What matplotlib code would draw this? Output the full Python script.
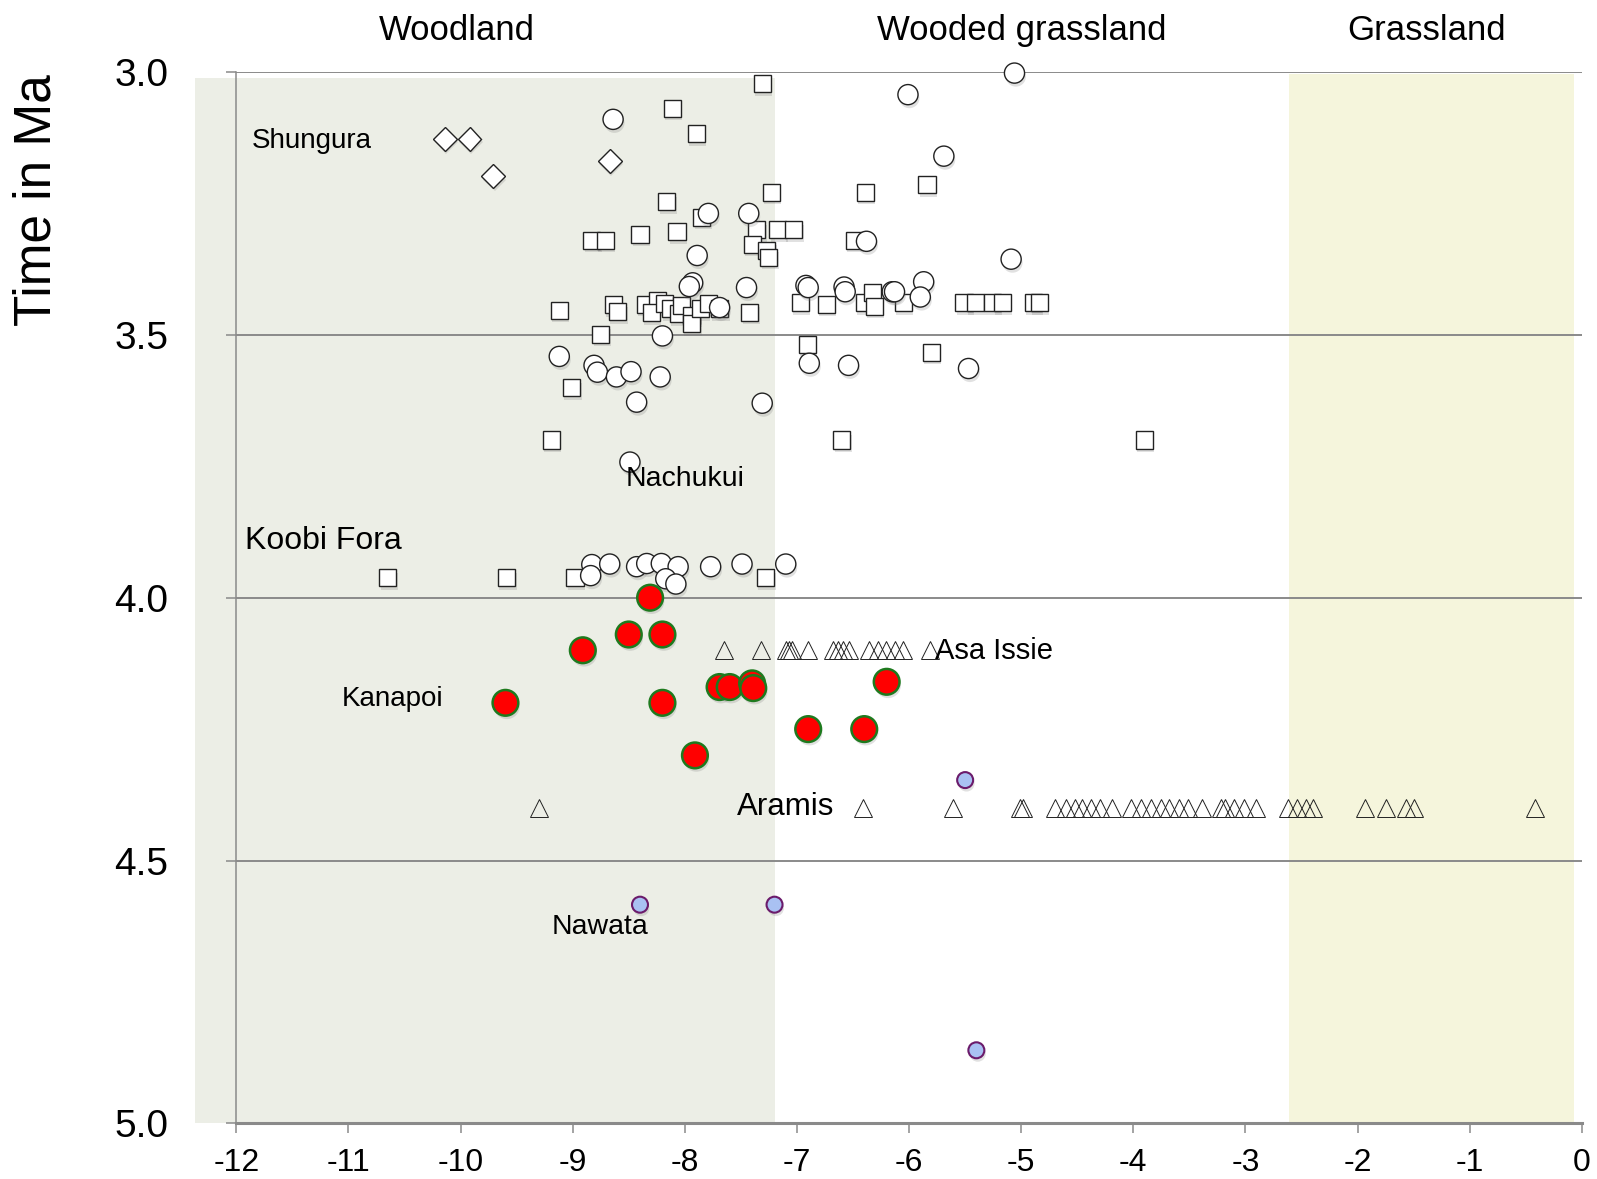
import matplotlib
matplotlib.use("Agg")
import matplotlib.pyplot as plt
import matplotlib.patheffects as pe
from matplotlib.patches import Rectangle

plt.rcParams['font.family'] = ['Liberation Sans', 'DejaVu Sans']
plt.rcParams['axes.unicode_minus'] = False

# delta 13C (x) against age in Ma (y), one list pair per site
shungura_x = [-10.14, -9.92, -9.71, -8.67]
shungura_y = [3.127, 3.127, 3.198, 3.169]

koobi_x = [-7.31, -8.11, -7.90, -7.23, -6.39, -5.84, -8.16, -7.85, -8.40, -8.07,
           -8.83, -8.71, -7.36, -7.40, -7.17, -7.03, -7.27, -7.25, -6.49,
           -9.12, -8.64, -8.60, -8.35, -8.24, -8.30, -8.18, -8.13, -8.06, -8.03,
           -7.94, -7.94, -7.86, -7.79, -7.69, -7.42, -8.75,
           -6.97, -6.74, -6.40, -6.33, -6.31, -6.05, -5.51, -5.41, -5.26, -5.17,
           -4.89, -4.84, -6.91, -5.80, -9.01, -9.19, -6.60, -3.90,
           -10.65, -9.59, -8.98, -7.28]
koobi_y = [3.022, 3.069, 3.117, 3.229, 3.229, 3.214, 3.247, 3.276, 3.309, 3.304,
           3.320, 3.320, 3.300, 3.328, 3.300, 3.300, 3.339, 3.352, 3.320,
           3.453, 3.443, 3.456, 3.442, 3.434, 3.458, 3.441, 3.450, 3.460, 3.444,
           3.463, 3.479, 3.450, 3.441, 3.450, 3.457, 3.499,
           3.439, 3.442, 3.439, 3.419, 3.446, 3.439, 3.439, 3.439, 3.439, 3.439,
           3.439, 3.439, 3.518, 3.533, 3.601, 3.700, 3.700, 3.700,
           3.962, 3.962, 3.962, 3.962]

nachukui_x = [-5.06, -6.01, -8.64, -5.69, -7.79, -7.43, -7.89, -6.38, -5.09,
              -7.93, -7.96, -7.45, -7.69, -8.20, -6.92, -6.90, -6.58, -6.57,
              -6.15, -6.13, -5.87, -5.90, -9.12, -8.81, -8.78, -8.61, -8.48,
              -8.22, -8.43, -7.31, -8.49, -6.89, -6.54, -5.47,
              -8.83, -8.84, -8.67, -8.43, -8.34, -8.21, -8.06, -8.17, -8.08,
              -7.77, -7.49, -7.10]
nachukui_y = [3.002, 3.043, 3.090, 3.160, 3.269, 3.269, 3.349, 3.322, 3.356,
              3.401, 3.408, 3.410, 3.448, 3.502, 3.406, 3.410, 3.409, 3.418,
              3.418, 3.418, 3.399, 3.428, 3.541, 3.558, 3.571, 3.580, 3.570,
              3.580, 3.628, 3.630, 3.742, 3.554, 3.558, 3.564,
              3.937, 3.958, 3.936, 3.941, 3.935, 3.935, 3.941, 3.964, 3.974,
              3.941, 3.936, 3.936]

kanapoi_x = [-8.31, -8.50, -8.20, -8.91, -9.60, -8.20, -7.69, -7.60, -7.40,
             -7.39, -6.20, -7.91, -6.90, -6.40]
kanapoi_y = [4.00, 4.07, 4.07, 4.10, 4.20, 4.20, 4.17, 4.17, 4.163,
             4.172, 4.16, 4.30, 4.25, 4.25]

nawata_x = [-5.50, -8.40, -7.20, -5.40]
nawata_y = [4.347, 4.584, 4.584, 4.861]

asa_issie_x = [-7.65, -7.32, -7.10, -7.07, -7.04, -6.90, -6.68, -6.63, -6.59,
               -6.54, -6.36, -6.28, -6.21, -6.13, -6.05, -5.81]
asa_issie_y = [4.10] * len(asa_issie_x)

aramis_x = [-9.30, -6.41, -5.61, -5.01, -4.98, -4.70, -4.60, -4.52, -4.46,
            -4.38, -4.30, -4.19, -4.02, -3.93, -3.84, -3.75, -3.68, -3.59,
            -3.51, -3.39, -3.22, -3.18, -3.10, -3.01, -2.91, -2.62, -2.54,
            -2.46, -2.40, -1.93, -1.75, -1.57, -1.50, -0.42]
aramis_y = [4.40] * len(aramis_x)

site_labels = ["Shungura", "Nachukui", "Koobi Fora", "Asa Issie", "Kanapoi",
               "Aramis", "Nawata"]
site_label_x = [-11.33, -8.00, -11.22, -5.24, -10.61, -7.10, -8.76]
site_label_y = [3.131, 3.775, 3.893, 4.101, 4.192, 4.399, 4.626]
site_label_size = [20, 20.5, 23, 21, 20, 22.5, 20.5]

zone_names = ["Woodland", "Wooded grassland", "Grassland"]

x_ticks = list(range(-12, 1))
y_ticks = [3.0, 3.5, 4.0, 4.5, 5.0]

fig = plt.figure(figsize=(15.97, 11.79), dpi=100)
ax = fig.add_axes([0.148, 0.0472, 0.8425, 0.8917])
ax.set_xlim(-12, 0)
ax.set_ylim(5.0, 3.0)

# vegetation bands
ax.add_patch(Rectangle((-12.37, 3.011), 12.37 - 7.20, 5.0 - 3.011,
                       facecolor="#ECEEE6", edgecolor="none",
                       clip_on=False, zorder=0))
ax.add_patch(Rectangle((-2.61, 3.004), 2.54, 5.0 - 3.004,
                       facecolor="#F5F5DC", edgecolor="none", zorder=0))

shadow = [pe.SimplePatchShadow(offset=(1, -2.5), shadow_rgbFace="#777777",
                               alpha=0.22), pe.Normal()]

ax.plot(koobi_x, koobi_y, ls="none", marker="s", ms=12.3, mfc="white",
        mec="#222222", mew=1.0, zorder=3, path_effects=shadow, clip_on=False)
ax.plot(nachukui_x, nachukui_y, ls="none", marker="o", ms=14.5, mfc="white",
        mec="#222222", mew=1.0, zorder=3, path_effects=shadow, clip_on=False)
ax.plot(shungura_x, shungura_y, ls="none", marker="D", ms=12, mfc="white",
        mec="#222222", mew=1.0, zorder=3, path_effects=shadow, clip_on=False)
ax.plot(kanapoi_x, kanapoi_y, ls="none", marker="o", ms=18.5, mfc="#FF0000",
        mec="#1E7A1E", mew=1.8, zorder=4, path_effects=shadow, clip_on=False)
ax.plot(nawata_x, nawata_y, ls="none", marker="o", ms=11.5, mfc="#A9C1F2",
        mec="#6B1B6B", mew=1.5, zorder=4, path_effects=shadow, clip_on=False)
# open triangles: no fill, so overlapping outlines stay visible
ax.plot(asa_issie_x, asa_issie_y, ls="none", marker="^", ms=12.5, mfc="none",
        mec="#222222", mew=0.7, zorder=3, clip_on=False)
ax.plot(aramis_x, aramis_y, ls="none", marker="^", ms=12.5, mfc="none",
        mec="#222222", mew=0.7, zorder=3, clip_on=False)

for name, lx, ly, fs in zip(site_labels, site_label_x, site_label_y,
                            site_label_size):
    ax.text(lx, ly, name, fontsize=fs, ha="center", va="center", zorder=5)

# axes styling
for side in ("top", "right"):
    ax.spines[side].set_visible(False)
ax.spines["left"].set_color("#8a8a8a")
ax.spines["left"].set_linewidth(1.1)
ax.spines["bottom"].set_color("#8a8a8a")
ax.spines["bottom"].set_linewidth(2.2)

ax.set_xticks(x_ticks)
ax.set_xticklabels([str(t) for t in x_ticks])
ax.set_yticks(y_ticks)
ax.set_yticklabels([f"{t:.1f}" for t in y_ticks])
ax.tick_params(axis="x", direction="out", length=7, width=1.1,
               color="#8a8a8a", labelsize=23, pad=11)
ax.tick_params(axis="y", direction="out", length=7, width=1.1,
               color="#8a8a8a", labelsize=28, pad=42)
ax.yaxis.grid(True, color="#8a8a8a", linewidth=1.4, zorder=1)
ax.set_axisbelow(True)

fig.text(37 / 1597, 1 - 200 / 1179, "Time in Ma", rotation=90, fontsize=37,
         ha="center", va="center")

zone_x = [457, 1021.6, 1427]
for name, zx in zip(zone_names, zone_x):
    fig.text(zx / 1597, 1 - 30.5 / 1179, name, fontsize=25,
             ha="center", va="center")

fig.savefig("out.png", dpi=100, facecolor="white")
